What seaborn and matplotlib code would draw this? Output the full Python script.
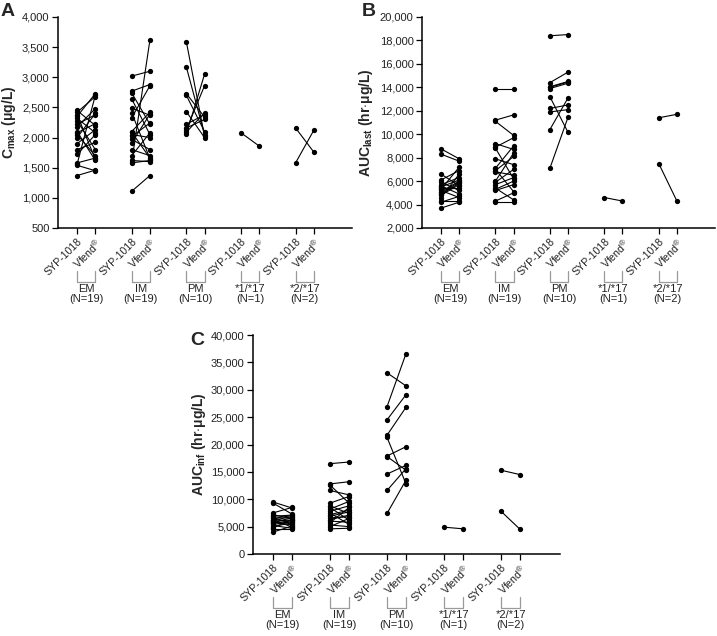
import numpy as np
import pandas as pd
import matplotlib
matplotlib.use("Agg")
import matplotlib.pyplot as plt
import matplotlib.transforms as mtransforms
from matplotlib.ticker import StrMethodFormatter
import seaborn as sns

# groups / labels
groups = ["EM", "IM", "PM", "*1/*17", "*2/*17"]
group_n = ["(N=19)", "(N=19)", "(N=10)", "(N=1)", "(N=2)"]
treatments = ["SYP-1018", r"Vfend$^{\circledR}$"]

# Cmax (ug/L), paired values: SYP-1018 / Vfend
cmax_syp = [
    [2450, 2420, 2380, 2350, 2320, 2280, 2220, 2180, 2100, 2080, 2050, 2000, 1900, 1800, 1720, 1580, 1560, 1540, 1370],
    [3020, 2770, 2740, 2640, 2490, 2410, 2330, 2100, 2090, 2050, 2020, 1970, 1910, 1800, 1700, 1620, 1600, 1580, 1110],
    [3590, 3170, 2730, 2700, 2430, 2220, 2160, 2130, 2090, 2060],
    [2080],
    [2160, 1580],
]
cmax_vf = [
    [2200, 2680, 1640, 2730, 2080, 1800, 2380, 2480, 1620, 2230, 1700, 2400, 2130, 1920, 2050, 1660, 2700, 1450, 1460],
    [3100, 2880, 2220, 2050, 2370, 1650, 2860, 2420, 1660, 2000, 2240, 1800, 2390, 1700, 2080, 1600, 3620, 1620, 1370],
    [2020, 2050, 2340, 2100, 2000, 2380, 2300, 2860, 2410, 3050],
    [1860],
    [1760, 2120],
]

# AUClast (hr*ug/L)
auclast_syp = [
    [8750, 8300, 6600, 6100, 5900, 5700, 5600, 5500, 5400, 5300, 5200, 5100, 5000, 4900, 4800, 4600, 4300, 4200, 3700],
    [13900, 11200, 11100, 9200, 8900, 8800, 7900, 7100, 7000, 6900, 6800, 6000, 5900, 5700, 5400, 5300, 5200, 4300, 4200],
    [18400, 14400, 14050, 14000, 13900, 13200, 12200, 11900, 10400, 7100],
    [4600],
    [11400, 7500],
]
auclast_vf = [
    [7900, 7700, 5600, 6900, 5200, 6300, 4900, 6100, 5400, 7200, 4600, 6000, 5900, 5800, 5700, 6600, 4300, 4700, 4200],
    [13900, 11650, 9900, 8700, 9700, 6200, 7400, 9000, 5100, 8100, 6500, 8400, 7000, 6300, 4400, 6000, 5700, 5000, 4200],
    [18500, 15300, 14500, 14450, 14350, 10150, 12500, 12100, 13100, 11450],
    [4300],
    [11700, 4300],
]

# AUCinf (hr*ug/L)
aucinf_syp = [
    [9500, 9300, 7500, 7200, 6900, 6700, 6500, 6300, 6200, 6000, 5900, 5800, 5600, 5400, 5200, 5000, 4800, 4500, 4000],
    [16500, 12800, 12600, 11600, 9300, 8800, 8500, 8200, 7800, 7500, 7200, 6900, 6600, 6300, 6000, 5700, 5300, 5000, 4600],
    [33100, 26900, 24500, 21700, 21300, 17900, 17800, 14600, 11600, 7400],
    [4900],
    [15300, 7800],
]
aucinf_vf = [
    [8400, 7300, 8500, 6400, 7100, 5500, 7000, 4900, 6800, 6200, 5300, 6600, 6100, 5900, 4700, 5700, 6300, 4500, 5100],
    [16800, 13200, 9300, 10800, 10500, 7400, 6200, 9600, 8800, 5400, 8000, 7700, 6800, 7100, 5800, 8500, 5000, 6500, 4700],
    [30700, 36600, 29100, 26800, 12800, 19600, 15300, 16200, 15600, 13500],
    [4600],
    [14500, 4500],
]


def long_df(syp, vf):
    rows = []
    for gi, (a, b) in enumerate(zip(syp, vf)):
        for si, (va, vb) in enumerate(zip(a, b)):
            sid = f"{groups[gi]}_{si}"
            rows.append((sid, 3 * gi, va))
            rows.append((sid, 3 * gi + 1, vb))
    return pd.DataFrame(rows, columns=["subject", "pos", "value"])


sns.set_style("ticks")
plt.rcParams["font.family"] = ["Liberation Sans", "DejaVu Sans"]
plt.rcParams["mathtext.fontset"] = "custom"
plt.rcParams["mathtext.rm"] = "Liberation Sans"
plt.rcParams["mathtext.bf"] = "Liberation Sans:bold"
plt.rcParams["mathtext.it"] = "Liberation Sans:italic"

fig = plt.figure(figsize=(7.17, 6.36), dpi=100)
W, H = 717, 636


def add_ax(left, right, top, bottom):
    return fig.add_axes([left / W, 1 - bottom / H, (right - left) / W, (bottom - top) / H])


panels = [
    dict(ax=add_ax(58, 352, 17, 228), hpx=211, syp=cmax_syp, vf=cmax_vf, ylim=(500, 4000), step=500,
         ylabel=r"$\mathbf{C_{max}}$ $\mathbf{(\mu g/L)}$", lx=-0.135, letter="A", lpos=(1, 3)),
    dict(ax=add_ax(422, 715, 17, 228), hpx=211, syp=auclast_syp, vf=auclast_vf, ylim=(2000, 20000), step=2000,
         ylabel=r"$\mathbf{AUC_{last}}$ $\mathbf{(hr{\cdot}\mu g/L)}$", lx=-0.16, letter="B", lpos=(362, 3)),
    dict(ax=add_ax(253, 560, 335, 554), hpx=219, syp=aucinf_syp, vf=aucinf_vf, ylim=(0, 40000), step=5000,
         ylabel=r"$\mathbf{AUC_{inf}}$ $\mathbf{(hr{\cdot}\mu g/L)}$", lx=-0.145, letter="C", lpos=(190, 332)),
]

positions = [p for g in range(len(groups)) for p in (3 * g, 3 * g + 1)]
xlabels = treatments * len(groups)

for p in panels:
    ax = p["ax"]
    df = long_df(p["syp"], p["vf"])
    sns.lineplot(data=df, x="pos", y="value", units="subject", estimator=None,
                 color="black", lw=0.8, marker="o", markersize=3.8,
                 markeredgewidth=0, legend=False, ax=ax)
    ax.set_xlim(-1.05, 15.1)
    ax.set_ylim(*p["ylim"])
    ax.set_yticks(np.arange(p["ylim"][0], p["ylim"][1] + 1, p["step"]))
    ax.yaxis.set_major_formatter(StrMethodFormatter("{x:,.0f}"))
    ax.set_xticks(positions)
    ax.set_xticklabels(xlabels, rotation=45, ha="right", rotation_mode="anchor")
    ax.tick_params(axis="both", length=4, width=0.9, color="black",
                   labelcolor="#222222", pad=2)
    ax.tick_params(axis="y", labelsize=8)
    ax.tick_params(axis="x", labelsize=7.6)
    ax.set_xlabel("")
    ax.set_ylabel(p["ylabel"], fontsize=10)
    ax.yaxis.set_label_coords(p["lx"], 0.5)
    sns.despine(ax=ax)
    for s in ("left", "bottom"):
        ax.spines[s].set_linewidth(1.1)
        ax.spines[s].set_color("black")

    # group brackets and labels under the tick labels (offsets in pixels)
    hpx = p["hpx"]
    b_top, b_bot, t_top = -43 / hpx, -54 / hpx, -56 / hpx
    trans = mtransforms.blended_transform_factory(ax.transData, ax.transAxes)
    for gi, (g, n) in enumerate(zip(groups, group_n)):
        x0, x1 = 3 * gi, 3 * gi + 1
        ax.plot([x0, x0, x1, x1], [b_top, b_bot, b_bot, b_top], color="#9a9a9a",
                lw=0.9, transform=trans, clip_on=False)
        ax.text((x0 + x1) / 2, t_top, f"{g}\n{n}", ha="center", va="top",
                fontsize=8, color="#222222", linespacing=1.0, transform=trans)

    fig.text(p["lpos"][0] / W, 1 - p["lpos"][1] / H, p["letter"], ha="left", va="top",
             fontsize=14, fontweight="bold")

fig.savefig("out.png", dpi=100)
